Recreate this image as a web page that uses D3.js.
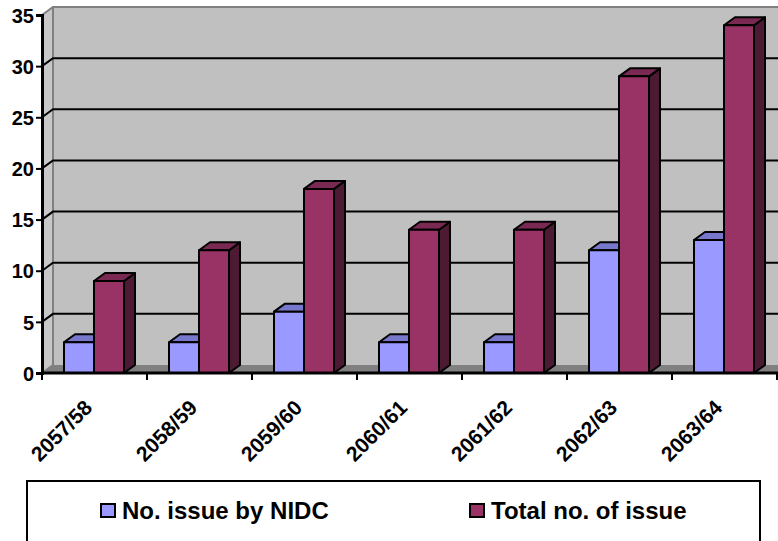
<!DOCTYPE html>
<meta charset="utf-8">
<html>
<style>
	body { margin: 0; background: #fff; }
	text { font-family: "Liberation Sans", Arial, sans-serif; font-weight: bold; fill: #000; }
	.face { stroke: #000; stroke-width: 2px; stroke-linejoin: round; }
</style>
<body>
<script src="https://d3js.org/d3.v7.min.js"></script>
<script>
	// data
	var categories = ["2057/58", "2058/59", "2059/60", "2060/61", "2061/62", "2062/63", "2063/64"];
	var nidcValues = [3, 3, 6, 3, 3, 12, 13];
	var totalValues = [9, 12, 18, 14, 14, 29, 34];
	var seriesNames = ["No. issue by NIDC", "Total no. of issue"];
	var yTicks = [0, 5, 10, 15, 20, 25, 30, 35];

	var width = 778, height = 541;
	var dx = 11, dy = -8; // 3d depth offset
	var barW = 30, barOffset = 22;

	var colors = [
		{ front: "#9999FF", top: "#7777CC", side: "#4D4D80" },
		{ front: "#993366", top: "#7A2952", side: "#4D1A33" }
	];

	var svg = d3.select("body").append("svg")
		.attr("width", width)
		.attr("height", height);

	var x = d3.scaleBand().domain(categories).range([42, 777]);
	var y = d3.scaleLinear().domain([0, 35]).range([373, 15]);

	var x0 = x.range()[0], x1 = width;

	// back wall
	svg.append("rect")
		.attr("x", x0 + dx).attr("y", y(35) + dy)
		.attr("width", x1 - x0 - dx).attr("height", y(0) - y(35))
		.attr("fill", "#C0C0C0");
	// side wall
	svg.append("path")
		.attr("d", "M" + x0 + "," + y(0) + "L" + x0 + "," + y(35) + "L" + (x0 + dx) + "," + (y(35) + dy)
			+ "L" + (x0 + dx) + "," + (y(0) + dy) + "Z")
		.attr("fill", "#C8C8C8");
	// floor
	svg.append("path")
		.attr("d", "M" + x0 + "," + y(0) + "L" + (x0 + dx) + "," + (y(0) + dy) + "L" + x1 + "," + (y(0) + dy)
			+ "L" + x1 + "," + y(0) + "Z")
		.attr("fill", "#808080");

	// wall borders
	svg.append("path")
		.attr("d", "M" + x0 + "," + y(35) + "L" + (x0 + dx) + "," + (y(35) + dy) + "L" + x1 + "," + (y(35) + dy)
			+ "M" + (x0 + dx) + "," + (y(35) + dy) + "L" + (x0 + dx) + "," + (y(0) + dy)
			+ "L" + x0 + "," + y(0))
		.attr("fill", "none")
		.attr("stroke", "#808080")
		.attr("stroke-width", 2);

	// gridlines
	svg.selectAll(".grid")
		.data(yTicks.filter(function (d) { return d > 0 && d < 35; }))
		.enter().append("path")
		.attr("class", "grid")
		.attr("d", function (d) {
			return "M" + x0 + "," + y(d) + "L" + (x0 + dx) + "," + (y(d) + dy) + "L" + x1 + "," + (y(d) + dy);
		})
		.attr("fill", "none")
		.attr("stroke", "#000")
		.attr("stroke-width", 2);

	// bars
	function drawBar(g, bx, v, c) {
		var top = y(v), bot = y(0);
		g.append("path").attr("class", "face")
			.attr("d", "M" + (bx + barW) + "," + bot + "L" + (bx + barW + dx) + "," + (bot + dy)
				+ "L" + (bx + barW + dx) + "," + (top + dy) + "L" + (bx + barW) + "," + top + "Z")
			.attr("fill", c.side);
		g.append("path").attr("class", "face")
			.attr("d", "M" + bx + "," + top + "L" + (bx + dx) + "," + (top + dy)
				+ "L" + (bx + barW + dx) + "," + (top + dy) + "L" + (bx + barW) + "," + top + "Z")
			.attr("fill", c.top);
		g.append("rect").attr("class", "face")
			.attr("x", bx).attr("y", top)
			.attr("width", barW).attr("height", bot - top)
			.attr("fill", c.front);
	}

	var bars = svg.append("g");
	categories.forEach(function (cat, i) {
		var g = bars.append("g");
		drawBar(g, x(cat) + barOffset, nidcValues[i], colors[0]);
		drawBar(g, x(cat) + barOffset + barW, totalValues[i], colors[1]);
	});

	// y axis
	var yAxis = svg.append("g").attr("transform", "translate(" + x0 + ",0)")
		.call(d3.axisLeft(y).tickValues(yTicks).tickSize(6).tickPadding(2));
	yAxis.select(".domain").attr("stroke-width", 3);
	yAxis.selectAll(".tick line").attr("stroke-width", 2);
	yAxis.selectAll(".tick text").style("font-size", "20px").attr("dy", "0.36em");

	// x axis
	svg.append("line")
		.attr("x1", x0).attr("x2", x1).attr("y1", y(0)).attr("y2", y(0))
		.attr("stroke", "#000").attr("stroke-width", 3);
	svg.selectAll(".xtick")
		.data(categories.concat([null]))
		.enter().append("line")
		.attr("x1", function (d, i) { return x0 + i * x.bandwidth(); })
		.attr("x2", function (d, i) { return x0 + i * x.bandwidth(); })
		.attr("y1", y(0)).attr("y2", y(0) + 7)
		.attr("stroke", "#000").attr("stroke-width", 2);
	svg.selectAll(".xlabel")
		.data(categories)
		.enter().append("text")
		.attr("class", "xlabel")
		.attr("text-anchor", "end")
		.style("font-size", "21px")
		.attr("transform", function (d) {
			return "translate(" + (x(d) + x.bandwidth() / 2 - 1) + "," + (y(0) + 36) + ") rotate(-45)";
		})
		.text(function (d) { return d; });

	// legend
	svg.append("rect")
		.attr("x", 27).attr("y", 481)
		.attr("width", 733).attr("height", 80)
		.attr("fill", "#fff").attr("stroke", "#000").attr("stroke-width", 2);
	var legendX = [101, 470];
	seriesNames.forEach(function (name, i) {
		svg.append("rect")
			.attr("x", legendX[i]).attr("y", 504)
			.attr("width", 14).attr("height", 13)
			.attr("fill", colors[i].front).attr("stroke", "#000").attr("stroke-width", 2);
		svg.append("text")
			.attr("x", legendX[i] + 21).attr("y", 519)
			.style("font-size", "24px")
			.text(name);
	});
</script>
</body>
</html>
